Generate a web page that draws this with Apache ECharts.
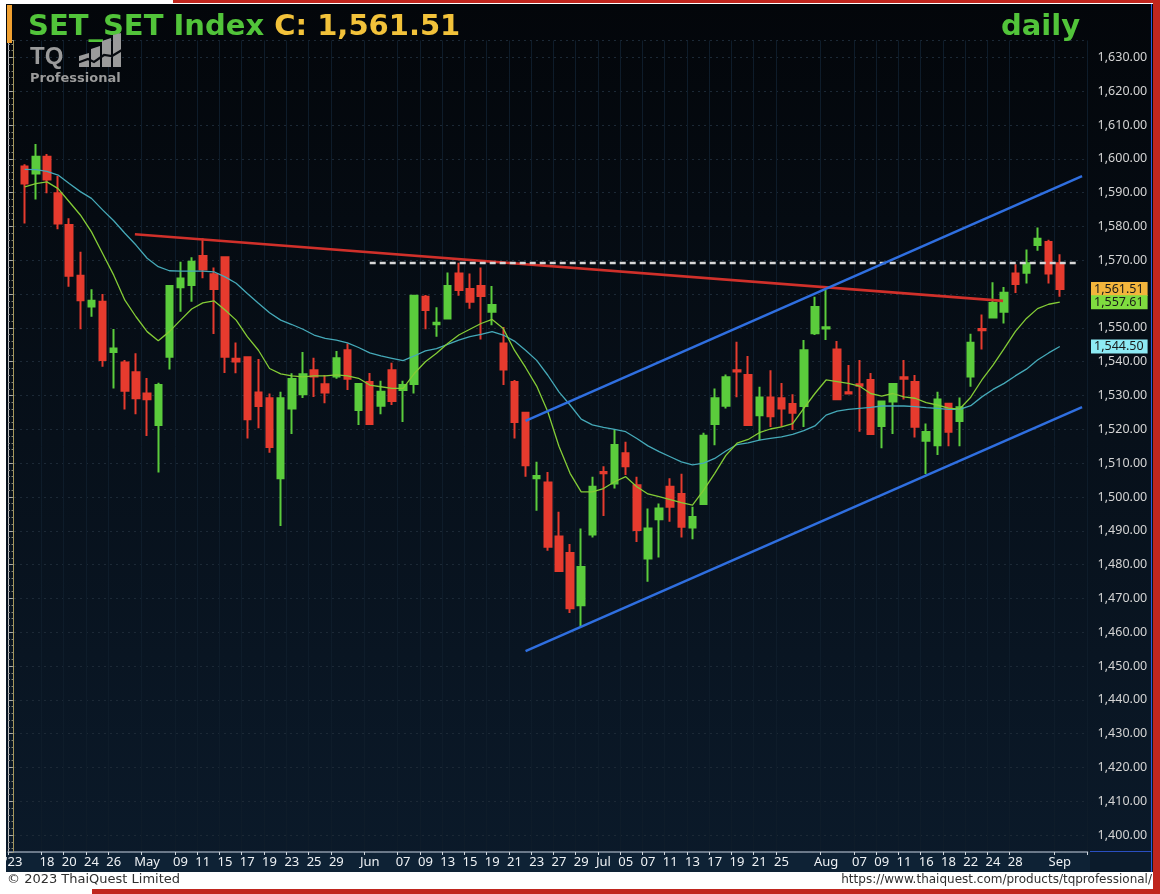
<!DOCTYPE html>
<html><head><meta charset="utf-8">
<script src="https://cdn.jsdelivr.net/npm/echarts@6/dist/echarts.min.js"></script>
<style>html,body{margin:0;padding:0;background:#fff;}#c{width:1160px;height:894px;}</style>
</head><body><div id="c"></div>
<script>
// ---------- data ----------
const categories = ['Apr 10',
 'Apr 11','Apr 12','Apr 18','Apr 19','Apr 20','Apr 21','Apr 24','Apr 25','Apr 26','Apr 27','Apr 28',
 'May 2','May 3','May 8','May 9','May 10','May 11','May 12','May 15','May 16','May 17','May 18','May 19',
 'May 22','May 23','May 24','May 25','May 26','May 29','May 30','May 31',
 'Jun 1','Jun 2','Jun 6','Jun 7','Jun 8','Jun 9','Jun 12','Jun 13','Jun 14','Jun 15','Jun 16',
 'Jun 19','Jun 20','Jun 21','Jun 22','Jun 23','Jun 26','Jun 27','Jun 28','Jun 29','Jun 30',
 'Jul 3','Jul 4','Jul 5','Jul 6','Jul 7','Jul 10','Jul 11','Jul 12','Jul 13','Jul 14',
 'Jul 17','Jul 18','Jul 19','Jul 20','Jul 21','Jul 24','Jul 25','Jul 26','Jul 27','Jul 31',
 'Aug 2','Aug 3','Aug 4','Aug 7','Aug 8','Aug 9','Aug 10','Aug 11','Aug 15','Aug 16','Aug 17','Aug 18',
 'Aug 21','Aug 22','Aug 23','Aug 24','Aug 25','Aug 28','Aug 29','Aug 30','Aug 31','Sep 1',
 'Sep 4','Sep 5'];
const tickLabels = ["'23",
 '','','18','','20','','24','','26','','',
 'May','','','09','','11','','15','','17','','19',
 '','23','','25','','29','','',
 'Jun','','','07','','09','','13','','15','',
 '19','','21','','23','','27','','29','',
 'Jul','','05','','07','','11','','13','',
 '17','','19','','21','','25','','','',
 'Aug','','','07','','09','','11','','16','','18',
 '','22','','24','','28','','','','Sep',
 '',''];
const opens  = [1597.7,1595.7,1600.6,1589.8,1580.4,1565.4,1556.3,1557.7,1542.9,1539.8,1536.9,
 1530.6,1521.3,1541.5,1562.0,1562.7,1571.3,1565.9,1570.9,1540.9,1541.3,1530.9,1529.2,
 1505.5,1526.2,1530.4,1537.5,1533.3,1535.6,1543.4,1525.7,
 1534.0,1527.0,1537.5,1531.6,1533.4,1559.2,1551.1,1552.8,1566.1,1561.5,1562.4,
 1554.8,1545.4,1534.0,1524.9,1505.5,1504.3,1488.3,1483.4,1468.0,1488.9,
 1507.4,1504.0,1512.9,1503.5,1481.8,1493.4,1503.0,1500.9,1491.0,1497.9,
 1521.6,1527.0,1537.5,1536.1,1524.2,1529.4,1529.2,1527.5,1526.9,1548.4,
 1549.8,1543.6,1531.0,1533.3,1534.6,1521.0,1528.2,1535.4,1534.0,1516.6,1515.3,1527.6,
 1522.5,1535.6,1549.7,1553.1,1554.8,1566.1,1566.3,1574.5,1575.4,1569.1];
const closes = [1592.7,1600.6,1593.9,1580.9,1565.4,1558.2,1558.0,1540.5,1543.9,1531.4,1529.2,
 1528.9,1533.1,1562.4,1564.6,1569.6,1567.3,1561.5,1541.5,1540.1,1523.0,1526.9,1514.8,
 1529.2,1534.9,1536.3,1535.6,1530.9,1541.0,1535.0,1533.4,
 1521.6,1531.1,1528.4,1533.1,1559.5,1555.3,1551.5,1562.4,1561.2,1557.7,1559.4,
 1556.8,1537.7,1522.2,1509.4,1506.2,1485.3,1478.1,1467.1,1479.3,1503.0,
 1507.0,1515.4,1509.1,1490.2,1490.7,1496.6,1497.1,1491.2,1494.1,1518.1,
 1529.2,1535.4,1537.1,1521.3,1529.4,1523.9,1526.2,1524.9,1543.4,1556.2,
 1550.2,1528.9,1530.6,1532.9,1518.6,1528.2,1533.4,1535.0,1520.8,1519.2,1528.8,1519.3,
 1526.5,1545.6,1549.3,1557.4,1560.4,1563.0,1569.1,1576.4,1566.1,1561.51];
const lows   = [1580.9,1588.0,1589.8,1579.2,1562.2,1549.6,1553.3,1538.5,1532.1,1525.9,1524.5,
 1518.0,1507.2,1537.7,1554.8,1557.7,1564.7,1548.2,1536.7,1536.6,1517.3,1520.3,1513.1,
 1491.4,1518.6,1529.3,1529.6,1527.7,1535.0,1531.6,1521.3,
 1521.3,1524.5,1527.2,1522.2,1530.6,1549.6,1547.4,1552.5,1559.5,1555.7,1546.6,
 1550.8,1533.1,1517.3,1506.0,1495.9,1484.1,1478.1,1465.7,1461.6,1488.0,
 1494.4,1502.5,1506.5,1486.7,1474.9,1482.1,1492.7,1488.0,1487.5,1497.9,
 1515.3,1526.2,1529.5,1521.3,1516.8,1520.7,1520.7,1519.8,1520.7,1547.9,
 1546.4,1528.9,1530.4,1519.3,1518.6,1514.4,1518.6,1528.8,1517.6,1506.8,1512.4,1515.0,
 1515.0,1532.6,1543.6,1553.1,1551.3,1560.3,1563.1,1572.8,1563.1,1559.2];
const highs  = [1598.4,1604.4,1601.4,1594.9,1582.4,1572.5,1561.4,1560.0,1549.7,1540.5,1542.5,
 1535.2,1533.8,1562.4,1569.6,1570.9,1576.5,1567.9,1570.9,1545.7,1541.3,1540.8,1530.6,
 1531.1,1536.6,1542.9,1541.2,1536.1,1543.2,1545.4,1533.4,
 1536.7,1534.4,1539.7,1534.4,1559.5,1559.7,1556.1,1566.4,1569.3,1566.1,1567.9,
 1562.4,1550.3,1534.6,1525.2,1510.4,1507.4,1495.6,1486.1,1490.7,1506.0,
 1509.1,1520.0,1516.3,1506.0,1496.6,1498.1,1505.5,1506.9,1497.1,1519.0,
 1532.1,1536.2,1545.9,1541.7,1532.6,1537.5,1533.7,1530.4,1546.4,1559.2,
 1561.2,1546.1,1539.0,1540.5,1536.7,1528.2,1533.4,1540.5,1536.1,1521.7,1531.1,1527.6,
 1529.4,1548.3,1554.0,1563.5,1562.1,1568.8,1573.2,1579.7,1576.1,1571.8];
const maFast = [1591.7,1592.7,1593.2,1591.2,1587.3,1583.4,1578.4,1572.0,1565.6,1558.2,1553.3,
 1548.9,1546.2,1548.9,1552.3,1555.6,1557.4,1558.0,1555.3,1552.3,1547.4,1543.4,1538.0,
 1536.4,1535.8,1535.5,1535.8,1535.8,1536.1,1535.8,1535.1,
 1533.1,1532.6,1532.1,1532.1,1536.5,1540.0,1542.5,1545.4,1547.9,1549.6,1551.3,
 1552.5,1549.8,1543.4,1538.3,1532.8,1525.2,1515.0,1507.0,1501.5,1501.5,
 1502.5,1504.5,1506.0,1503.0,1500.9,1500.1,1499.2,1498.3,1497.6,1502.0,
 1507.0,1512.3,1515.9,1517.0,1519.0,1520.1,1520.7,1521.7,1526.2,1530.6,
 1534.6,1534.1,1533.6,1532.8,1530.6,1529.8,1530.6,1529.6,1529.2,1527.9,1527.2,1526.3,
 1526.0,1529.5,1534.6,1539.0,1543.9,1548.9,1552.8,1555.7,1557.0,1557.61];
const maSlow = [1596.9,1596.8,1596.3,1595.2,1592.7,1590.3,1588.3,1584.9,1581.7,1578.0,1574.5,
 1570.6,1568.1,1566.9,1566.8,1566.8,1566.8,1566.6,1565.1,1563.2,1560.2,1557.3,1554.5,
 1552.3,1551.0,1549.6,1547.9,1546.9,1546.4,1545.6,1544.2,
 1542.6,1541.7,1541.0,1540.3,1541.7,1543.2,1543.9,1545.1,1546.4,1547.4,1548.1,
 1548.9,1547.9,1546.1,1543.4,1540.4,1536.0,1531.1,1527.2,1523.0,1521.3,
 1520.6,1520.0,1519.3,1517.3,1515.1,1513.4,1511.9,1510.4,1509.5,1510.0,
 1511.4,1513.6,1515.5,1516.0,1516.8,1517.3,1517.8,1518.5,1519.6,1521.0,
 1524.2,1525.4,1525.9,1526.2,1526.5,1526.9,1526.9,1526.9,1526.7,1526.4,1526.2,1525.9,
 1525.9,1527.0,1529.6,1531.8,1533.6,1535.8,1537.8,1540.5,1542.6,1544.50];
// drawn trend lines: [position on the day axis, price]
const resistanceLine = [[10.9, 1577.7], [88.9, 1558.0]];
const highLevel      = [[32.0, 1569.2], [95.5, 1569.2]];
const channelUpper   = [[46.0, 1522.5], [96.0, 1594.9]];
const channelLower   = [[46.0, 1454.4], [96.0, 1526.6]];
const priceTags = [
  {value: 1561.51, bg: '#f3b53c'},
  {value: 1557.61, bg: '#7fdc3f'},
  {value: 1544.50, bg: '#8deaf4'}
];

// ---------- build ----------
const N = categories.length;
const pad = (arr) => categories.map((c, k) => (k >= 1 && k <= arr.length) ? arr[k - 1] : '-');
const candleData = categories.map((c, k) => (k >= 1 && k <= opens.length)
  ? [opens[k-1], closes[k-1], lows[k-1], highs[k-1]] : '-');
const W = 11.13;
const labeled = (i) => tickLabels[i] !== '';
const fmt = (v) => v.toLocaleString('en-US', {minimumFractionDigits: 2, maximumFractionDigits: 2});

const chart = echarts.init(document.getElementById('c'), null, {renderer: 'canvas'});
const GREEN = '#5bcc3c', RED = '#e63b2e', RIM = '#c0261e', LOGO = '#9b9b9b';
const TITLE_FONT = 'bold 29px "DejaVu Sans"';
const option = {
  animation: false,
  backgroundColor: '#ffffff',
  grid: {left: 8, top: 40.5, width: N * W, height: 811.5, show: false},
  xAxis: [{
    type: 'category', data: categories, boundaryGap: true,
    axisLine: {show: true, lineStyle: {color: '#8a98a8', width: 1.5}},
    axisTick: {show: true, interval: labeled, length: 3, lineStyle: {color: '#cfd6dd'}},
    axisLabel: {interval: labeled, formatter: (v, i) => tickLabels[i], color: '#eef1f4',
      fontSize: 13, fontFamily: 'Noto Sans', margin: 4},
    splitLine: {show: true, interval: labeled, lineStyle: {color: '#0e1c2a', width: 1}}
  }, {
    type: 'value', min: -0.5, max: N - 0.5, show: false
  }],
  yAxis: [{
    type: 'value', position: 'right', min: 1395, max: 1635, splitNumber: 24, offset: 3,
    axisLine: {show: true, lineStyle: {color: '#a8985a', width: 1}},
    axisTick: {show: true, inside: true, length: 5, lineStyle: {color: '#a0a08a'}},
    minorTick: {show: true, splitNumber: 5, length: 2, lineStyle: {color: '#8a8a78'}},
    axisLabel: {showMinLabel: false, showMaxLabel: false, color: '#d4d4d4', fontSize: 12.5,
      fontFamily: 'Noto Sans', margin: 7, formatter: fmt},
    splitLine: {show: true, lineStyle: {color: '#1c2936', type: [2, 4], width: 1}}
  }, {
    type: 'value', position: 'left', min: 1395, max: 1635, splitNumber: 24,
    axisLine: {show: true, lineStyle: {color: '#bcbcbc', width: 1}},
    axisTick: {show: true, inside: true, length: 4, lineStyle: {color: '#a8a8a8'}},
    minorTick: {show: true, splitNumber: 5, length: 2, lineStyle: {color: '#8c8c8c'}},
    axisLabel: {show: false}, splitLine: {show: false}
  }],
  series: [
    {type: 'candlestick', data: candleData, barWidth: 7, z: 3,
      itemStyle: {color: GREEN, color0: RED, borderColor: GREEN, borderColor0: RED, borderWidth: 2}},
    {type: 'line', data: pad(maSlow), showSymbol: false, z: 4,
      lineStyle: {color: '#45a9b8', width: 1.3}},
    {type: 'line', data: pad(maFast), showSymbol: false, z: 4,
      lineStyle: {color: '#84cc36', width: 1.3}},
    {type: 'line', xAxisIndex: 1, data: resistanceLine, showSymbol: false, z: 5,
      lineStyle: {color: '#d0302a', width: 2.6}},
    {type: 'line', xAxisIndex: 1, data: highLevel, showSymbol: false, z: 5,
      lineStyle: {color: '#d8d8d8', width: 2.5, type: [6, 4]}},
    {type: 'line', xAxisIndex: 1, data: channelUpper, showSymbol: false, z: 5,
      lineStyle: {color: '#2f6fe0', width: 2.5}},
    {type: 'line', xAxisIndex: 1, data: channelLower, showSymbol: false, z: 5,
      lineStyle: {color: '#2f6fe0', width: 2.5}}
  ],
  graphic: [
    {id: 'bg', type: 'rect', z: -10, silent: true, shape: {x: 6, y: 4, width: 1147, height: 868},
      style: {fill: new echarts.graphic.LinearGradient(0, 0, 0, 1, [
        {offset: 0, color: '#03060a'}, {offset: 1, color: '#0b1a2a'}])}},
    {id: 'band', type: 'rect', z: -9, silent: true, shape: {x: 6, y: 852, width: 1084, height: 20},
      style: {fill: '#0e2235'}},
    {id: 'panelB', type: 'rect', z: -9, silent: true, shape: {x: 1090, y: 852, width: 61, height: 20},
      style: {fill: '#0b1b2b'}},
    {id: 'panelLine', type: 'rect', z: -8, silent: true, shape: {x: 1090, y: 851, width: 61, height: 1},
      style: {fill: '#2a4fc0'}},
    {id: 'blueEdge', type: 'rect', z: -8, silent: true, shape: {x: 1151, y: 4, width: 1, height: 868}, style: {fill: '#2a5ad8'}},
    {id: 'rimTop', type: 'rect', z: 10, silent: true, shape: {x: 173, y: 0, width: 987, height: 3}, style: {fill: RIM}},
    {id: 'rimRight', type: 'rect', z: 10, silent: true, shape: {x: 1153, y: 0, width: 7, height: 894}, style: {fill: RIM}},
    {id: 'rimBottom', type: 'rect', z: 10, silent: true, shape: {x: 92, y: 889, width: 1068, height: 5}, style: {fill: RIM}},
    {id: 'orangeBar', type: 'rect', z: 10, silent: true, shape: {x: 7, y: 5, width: 5, height: 38}, style: {fill: '#f0a030'}},
    {id: 'title', type: 'text', z: 10, x: 28, y: 13, style: {
      text: '{g|SET_SET Index }{y|C: 1,561.51}',
      rich: {g: {fill: '#52c43a', font: TITLE_FONT}, y: {fill: '#f2c23a', font: TITLE_FONT}}}},
    {id: 'daily', type: 'text', z: 10, x: 1001, y: 13, style: {text: 'daily', fill: '#52c43a', font: TITLE_FONT}},
    {id: 'tq', type: 'text', z: 10, x: 30, y: 45, style: {text: 'TQ', fill: LOGO, font: 'bold 24px "Liberation Sans"'}},
    {id: 'b1', type: 'polygon', z: 10, shape: {points: [[79, 56], [89, 53], [89, 67], [79, 67]]}, style: {fill: LOGO}},
    {id: 'b2', type: 'polygon', z: 10, shape: {points: [[91, 49], [100, 46], [100, 67], [91, 67]]}, style: {fill: LOGO}},
    {id: 'b3', type: 'polygon', z: 10, shape: {points: [[102, 41], [111, 38], [111, 67], [102, 67]]}, style: {fill: LOGO}},
    {id: 'b4', type: 'polygon', z: 10, shape: {points: [[113, 35], [121, 33], [121, 67], [113, 67]]}, style: {fill: LOGO}},
    {id: 'wave', type: 'polyline', z: 11, shape: {points: [[77, 63], [88, 59], [94, 62], [104, 55], [112, 56], [122, 50]]},
      style: {stroke: '#080b10', lineWidth: 2.2, fill: null}},
    {id: 'prof', type: 'text', z: 10, x: 30, y: 72, style: {text: 'Professional', fill: LOGO, font: 'bold 13px "DejaVu Sans"'}},
    {id: 'copy', type: 'text', z: 10, x: 7, y: 873, style: {text: '\u00a9 2023 ThaiQuest Limited', fill: '#303030', font: '13px "DejaVu Sans"'}},
    {id: 'url', type: 'text', z: 10, right: 8, top: 874, style: {text: 'https://www.thaiquest.com/products/tqprofessional/', fill: '#303030', font: '12px "DejaVu Sans"'}}
  ]
};
chart.setOption(option);

// price tags on the right axis, positioned through the y scale
const tagGraphics = priceTags.map((t, i) => {
  const y = chart.convertToPixel({yAxisIndex: 0}, t.value);
  return {id: 'tag' + i, type: 'text', z: 20, x: 1091, y: y,
    style: {text: fmt(t.value), fill: '#1a1a1a', font: '12.5px "Noto Sans"',
      verticalAlign: 'middle', backgroundColor: t.bg, padding: [0, 4, 0, 3], lineHeight: 14}};
});
chart.setOption({graphic: tagGraphics});
</script></body></html>
